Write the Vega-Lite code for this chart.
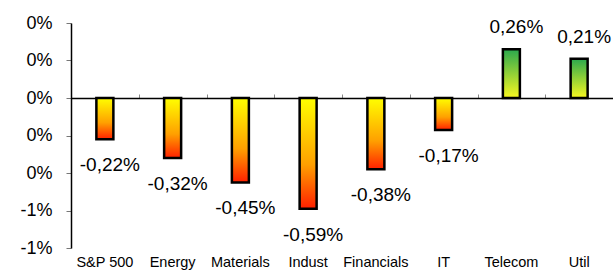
{
  "$schema": "https://vega.github.io/schema/vega-lite/v6.json",
  "width": 542,
  "height": 225,
  "autosize": "none",
  "padding": {"left": 71, "top": 23, "right": 0, "bottom": 25},
  "background": "white",
  "config": {
    "view": {"stroke": null},
    "font": "Liberation Sans",
    "locale": {"number": {"decimal": ",", "thousands": ".", "grouping": [3], "currency": ["", " €"], "minus": "-"}}
  },
  "data": {
    "values": [
      {"sector": "S&P 500", "value": -0.0022},
      {"sector": "Energy", "value": -0.0032},
      {"sector": "Materials", "value": -0.0045},
      {"sector": "Indust", "value": -0.0059},
      {"sector": "Financials", "value": -0.0038},
      {"sector": "IT", "value": -0.0017},
      {"sector": "Telecom", "value": 0.0026},
      {"sector": "Util", "value": 0.0021}
    ]
  },
  "resolve": {"axis": {"x": "independent"}},
  "layer": [
    {
      "transform": [{"filter": "datum.value < 0"}],
      "mark": {
        "type": "bar",
        "size": 17,
        "fill": {"gradient": "linear", "x1": 0, "y1": 0, "x2": 0, "y2": 1,
          "stops": [{"offset": 0, "color": "#ffff00"}, {"offset": 0.6, "color": "#ffa000"}, {"offset": 1, "color": "#ff2000"}]},
        "stroke": "black",
        "strokeWidth": 2.5
      },
      "encoding": {
        "x": {
          "field": "sector", "type": "nominal", "sort": null,
          "scale": {"domain": ["S&P 500", "Energy", "Materials", "Indust", "Financials", "IT", "Telecom", "Util"], "paddingInner": 0, "paddingOuter": 0},
          "axis": {"orient": "bottom", "title": null, "domain": false, "ticks": false, "labelAngle": 0, "labelFontSize": 14.5, "labelPadding": 7, "labelColor": "black"}
        },
        "y": {
          "field": "value", "type": "quantitative",
          "scale": {"domain": [-0.008, 0.004], "nice": false, "zero": true},
          "axis": {
            "title": null, "grid": false,
            "values": [-0.008, -0.006, -0.004, -0.002, 0, 0.002, 0.004],
            "labelExpr": "replace(format(datum.value, '.0%'), '-0%', '0%')",
            "domainColor": "black", "domainWidth": 1.5,
            "tickColor": "#777777", "tickSize": 5,
            "labelFontSize": 18, "labelPadding": 14, "labelColor": "black"
          }
        }
      }
    },
    {
      "transform": [{"filter": "datum.value >= 0"}],
      "mark": {
        "type": "bar",
        "size": 17,
        "fill": {"gradient": "linear", "x1": 0, "y1": 0, "x2": 0, "y2": 1,
          "stops": [{"offset": 0, "color": "#2aa84e"}, {"offset": 1, "color": "#f8f820"}]},
        "stroke": "black",
        "strokeWidth": 2.5
      },
      "encoding": {
        "x": {
          "field": "sector", "type": "nominal", "sort": null,
          "axis": {"orient": "top", "offset": -75, "title": null, "labels": false, "domain": true, "domainColor": "black", "domainWidth": 1.5, "ticks": true, "tickBand": "extent", "tickSize": 4, "tickColor": "#888888"}
        },
        "y": {
          "field": "value", "type": "quantitative",
          "axis": {
            "title": null, "grid": false,
            "values": [-0.008, -0.006, -0.004, -0.002, 0, 0.002, 0.004],
            "labelExpr": "replace(format(datum.value, '.0%'), '-0%', '0%')",
            "domainColor": "black", "domainWidth": 1.5,
            "tickColor": "#777777", "tickSize": 5,
            "labelFontSize": 18, "labelPadding": 14, "labelColor": "black"
          }
        }
      }
    },
    {
      "transform": [{"filter": "datum.value < 0"}],
      "mark": {"type": "text", "dy": 26, "dx": 5, "baseline": "middle", "fontSize": 19, "color": "black"},
      "encoding": {
        "x": {"field": "sector", "type": "nominal", "sort": null, "axis": null},
        "y": {
          "field": "value", "type": "quantitative",
          "axis": {
            "title": null, "grid": false,
            "values": [-0.008, -0.006, -0.004, -0.002, 0, 0.002, 0.004],
            "labelExpr": "replace(format(datum.value, '.0%'), '-0%', '0%')",
            "domainColor": "black", "domainWidth": 1.5,
            "tickColor": "#777777", "tickSize": 5,
            "labelFontSize": 18, "labelPadding": 14, "labelColor": "black"
          }
        },
        "text": {"field": "value", "type": "quantitative", "format": ".2%"}
      }
    },
    {
      "transform": [{"filter": "datum.value >= 0"}],
      "mark": {"type": "text", "dy": -22, "dx": 5, "baseline": "middle", "fontSize": 19, "color": "black"},
      "encoding": {
        "x": {"field": "sector", "type": "nominal", "sort": null, "axis": null},
        "y": {
          "field": "value", "type": "quantitative",
          "axis": {
            "title": null, "grid": false,
            "values": [-0.008, -0.006, -0.004, -0.002, 0, 0.002, 0.004],
            "labelExpr": "replace(format(datum.value, '.0%'), '-0%', '0%')",
            "domainColor": "black", "domainWidth": 1.5,
            "tickColor": "#777777", "tickSize": 5,
            "labelFontSize": 18, "labelPadding": 14, "labelColor": "black"
          }
        },
        "text": {"field": "value", "type": "quantitative", "format": ".2%"}
      }
    }
  ]
}
